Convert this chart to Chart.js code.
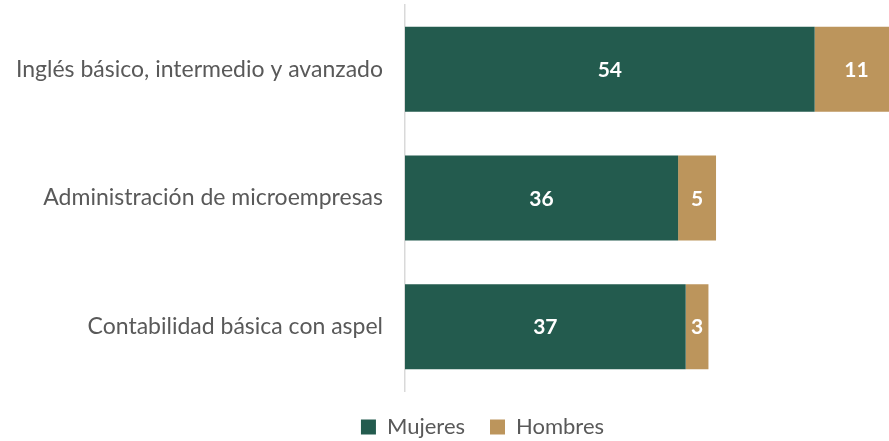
<!DOCTYPE html>
<html>
<head>
<meta charset="utf-8">
<script src="https://cdn.jsdelivr.net/npm/chart.js@4"></script>
<style>
  html, body { margin: 0; padding: 0; background: #fff; }
  #wrap { width: 889px; height: 441px; }
</style>
</head>
<body>
<div id="wrap"><canvas id="cursos"></canvas></div>
<script>
const categories = [
  "Inglés básico, intermedio y avanzado",
  "Administración de microempresas",
  "Contabilidad básica con aspel"
];
const mujeres = [54, 36, 37];
const hombres = [11, 5, 3];

const FONT = "Lato, 'Open Sans', sans-serif";

// writes the value in the middle of each segment
const barLabels = {
  id: "barLabels",
  afterDatasetsDraw(chart) {
    const { ctx } = chart;
    ctx.save();
    ctx.fillStyle = "#ffffff";
    ctx.font = "bold 21px " + FONT;
    ctx.textAlign = "center";
    ctx.textBaseline = "middle";
    chart.data.datasets.forEach((ds, i) => {
      chart.getDatasetMeta(i).data.forEach((bar, j) => {
        const cx = (bar.x + bar.base) / 2;
        ctx.fillText(ds.data[j], cx, bar.y + 1);
      });
    });
    ctx.restore();
  }
};

// legend sits a bit right of centre in the original
const legendShift = {
  id: "legendShift",
  afterLayout(chart) {
    chart.legend.left += 38;
    chart.legend.right += 38;
  }
};

new Chart(document.getElementById("cursos"), {
  type: "bar",
  data: {
    labels: categories,
    datasets: [
      { label: "Mujeres", data: mujeres, backgroundColor: "#235b4e" },
      { label: "Hombres", data: hombres, backgroundColor: "#bc955c" }
    ]
  },
  options: {
    indexAxis: "y",
    responsive: true,
    maintainAspectRatio: false,
    animation: false,
    layout: { padding: { top: 5, right: 0, bottom: -7, left: 0 } },
    datasets: { bar: { barPercentage: 0.66, categoryPercentage: 1 } },
    scales: {
      x: { stacked: true, min: 0, max: 63.8, display: false },
      y: {
        stacked: true,
        grid: { display: false, drawTicks: true, tickLength: 22 },
        border: { display: true, color: "#d9d9d9", width: 1.5 },
        ticks: { color: "#595959", font: { family: FONT, size: 23 }, padding: 0 },
        afterFit(scale) {
          scale.width = 405;
          scale.paddingTop = 0;
          scale.paddingBottom = 0;
        }
      }
    },
    plugins: {
      legend: {
        position: "bottom",
        labels: {
          color: "#595959",
          font: { family: FONT, size: 22 },
          boxWidth: 15,
          boxHeight: 15,
          padding: 25
        }
      },
      tooltip: { enabled: false }
    }
  },
  plugins: [barLabels, legendShift]
});
</script>
</body>
</html>
